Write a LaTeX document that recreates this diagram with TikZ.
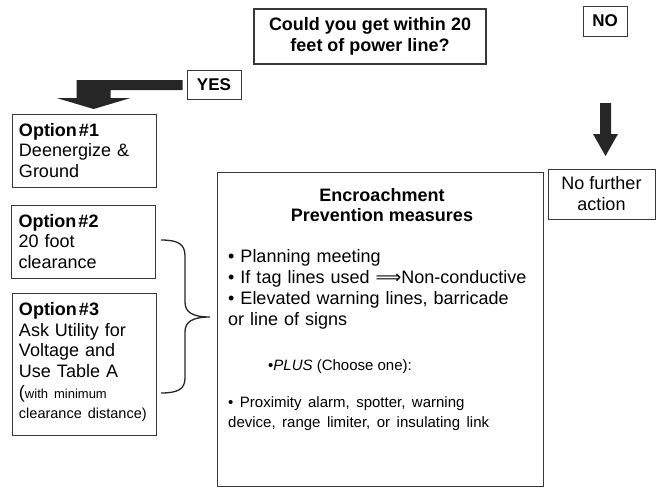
\documentclass[tikz,border=0pt]{standalone}
\usepackage{fontspec}
\setmainfont{Liberation Sans}
\newfontfamily\symbolfont{DejaVu Sans}

\definecolor{inkgray}{RGB}{38,38,38}
\definecolor{linegray}{RGB}{55,55,55}
\newcommand{\widespaces}[1]{\spaceskip=#1\relax}

\tikzset{
  box/.style={draw=linegray, line width=0.8pt, inner sep=0pt},
  optbox/.style={box, text width=130pt, inner xsep=7pt, minimum height=73pt, align=left,
    font=\fontsize{18}{20.7}\selectfont},
  bigtext/.style={inner sep=0pt, font=\fontsize{18}{21.3}\selectfont},
  smalltext/.style={inner sep=0pt, font=\fontsize{15}{20}\selectfont},
  fatarrow/.style={fill=inkgray, draw=none},
}

\begin{document}
\begin{tikzpicture}[x=1pt,y=1pt,yscale=-1]
\useasboundingbox (0,0) rectangle (662,491);

% Question
\node[box, line width=2.2pt, minimum width=232pt, minimum height=55pt, align=center,
  font=\bfseries\fontsize{18}{21}\selectfont] (question) at (370,36.5) {Could you get within 20\\feet of power line?};

% Answers
\node[box, minimum width=54pt, minimum height=29pt, font=\bfseries\fontsize{17}{20}\selectfont] (yes) at (214,84.5) {YES};
\node[box, minimum width=44pt, minimum height=30pt, font=\bfseries\fontsize{17}{20}\selectfont] (no) at (605,21) {NO};

% Options
\node[optbox] (opt1) at (84,150.5) {\textbf{Option\hspace{2pt}\#1}\\Deenergize \&\\Ground};
\node[optbox] (opt2) at (83.5,241.5) {\textbf{Option\hspace{2pt}\#2}\\20 foot\\clearance};
\node[optbox, minimum height=0pt, inner ysep=9pt, text depth=111pt] (opt3) at (84,293) [anchor=north]
  {\textbf{Option\hspace{2pt}\#3}\\Ask Utility for\\Voltage and\\Use Table A\\
   ({\fontsize{13}{20}\selectfont\widespaces{6pt}with minimum}\\
   {\fontsize{14.5}{20}\selectfont clearance distance)}};

% Encroachment prevention
\node[box, minimum width=326pt, minimum height=314pt] (prevent) at (380,329) {};
\node[bigtext, align=center, font=\bfseries\fontsize{18}{20.5}\selectfont] (prevtitle) at (382,205) {Encroachment\\Prevention measures};
\node[bigtext, text width=312pt, align=left, anchor=base west] (prevlist) at (228,262)
  {• Planning meeting\\• If tag lines used {\symbolfont ⟹}Non-conductive\\• Elevated warning lines, barricade\\or line of signs};
\node[smalltext, anchor=base west] (plus) at (268,370) {•\textit{PLUS} (Choose one):};
\node[smalltext, text width=312pt, align=left, anchor=base west] (prevchoice) at (228,407)
  {\widespaces{6.5pt}• Proximity alarm, spotter, warning\\device, range limiter, or insulating link};

% No further action
\node[box, minimum width=107pt, minimum height=50pt, align=center,
  font=\fontsize{18}{21}\selectfont] (noaction) at (601.5,194) {No further\\action};

% Fat arrow YES -> Option 1
\fill[fatarrow] (yes.west) ++(-4,-4.5) -- ++(-106,0) -- ++(0,18) -- ++(-20,0) -- ++(37,11)
  -- ++(37,-11) -- ++(-20,0) -- ++(0,-8) -- ++(72,0) -- cycle;

% Fat arrow NO -> no further action
\coordinate (notop) at (605.5,103);
\fill[fatarrow] (notop) ++(-5.5,0) -- ++(11,0) -- ++(0,31) -- ++(7,0) -- ++(-12.5,22)
  -- ++(-12.5,-22) -- ++(7,0) -- cycle;

% Brace Options 2/3 -> prevention
\coordinate (bracetop) at (161,240);
\coordinate (bracetip) at (210,317);
\coordinate (bracebot) at (161,393);
\draw[black!85, line width=1.3pt] (bracetop) .. controls (178,240) and (185,244) .. (185,256)
  -- (185,302) .. controls (185,312) and (192,317) .. (bracetip)
  .. controls (192,317) and (185,322) .. (185,332) -- (185,378)
  .. controls (185,389) and (178,393) .. (bracebot);
\end{tikzpicture}
\end{document}
